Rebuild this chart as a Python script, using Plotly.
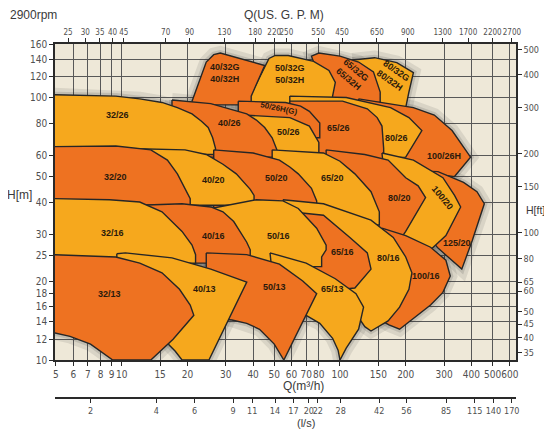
import numpy as np
import plotly.graph_objects as go

# ---------------- axis tick labels ----------------
q_ticks = [5, 6, 7, 8, 9, 10, 15, 20, 30, 40, 50, 60, 70, 80, 100, 150, 200, 300, 400, 500, 600]
h_ticks = [10, 12, 14, 16, 18, 20, 25, 30, 40, 50, 60, 80, 100, 120, 140, 160]
gpm_ticks = [25, 30, 35, 40, 45, 70, 90, 130, 180, 220, 250, 350, 450, 650, 900, 1300, 1700, 2200, 2700]
gpm_text = ["25", "30", "35", "40", "45", "70", "90", "130", "180", "220", "250", "550", "450",
            "650", "900", "1300", "1700", "2200", "2700"]
ls_ticks = [2, 4, 6, 9, 11, 14, 17, 20, 22, 28, 42, 56, 85, 115, 140, 170]
ft_ticks = [35, 40, 45, 50, 60, 65, 80, 100, 150, 200, 300, 400, 500]

# ---------------- pump fields: Q [m3/h], H [m] outlines ----------------
# row x/32
q_80_32 = [114.0, 144.1, 182.1, 216.9, 206.9, 200, 138.7, 114.0]
h_80_32 = [139.1, 141.9, 135.8, 124.5, 105.0, 91.6, 91.6, 118.6]
q_65_32 = [86.4, 74.0, 80, 100, 121.7, 142.3, 152.8, 152.8, 86.4]
h_65_32 = [101.3, 143.8, 147.8, 143.8, 136.6, 125.3, 105.0, 95.8, 95.8]
q_50_32 = [38.5, 47.3, 50.5, 57.9, 75.7, 89.0, 95.2, 92.5, 92.5, 38.5]
h_50_32 = [100, 140.9, 144.7, 144.7, 137.4, 126.8, 114.3, 101.3, 93.8, 93.8]
q_40_32 = [21.0, 24.4, 26.4, 28.3, 45.2, 39.2, 39.2, 21.0]
h_40_32 = [96.9, 136.6, 145.7, 147.8, 132.5, 101.3, 93.8, 93.8]
# row x/26
q_100_26 = [121.7, 216.9, 270.3, 326.1, 396.3, 334.7, 270.3, 200, 121.7]
h_100_26 = [98.9, 91.6, 85.8, 74.9, 59.3, 50, 51.2, 57.8, 57.8]
q_80_26 = [58.9, 106.8, 170.5, 206.9, 237.1, 200, 106.8, 58.9]
h_80_26 = [101.3, 100, 91.6, 83.9, 74.9, 59.3, 57.8, 57.8]
q_65_26 = [58.9, 102.7, 133.4, 148, 155.7, 158.5, 158.5, 58.9]
h_65_26 = [96.9, 96.9, 90.6, 83.9, 77.9, 64.0, 57.8, 57.8]
q_50_26h = [34.2, 56.3, 66.0, 72.4, 80.8, 80.8, 34.2]
h_50_26h = [96.9, 95.8, 92.8, 88.6, 80, 70.3, 70.3]
q_50_26 = [35.7, 58.9, 72.4, 80, 80, 35.7]
h_50_26 = [85.8, 83.9, 77.9, 67.5, 59.3, 59.3]
q_40_26 = [17.0, 25.6, 37.4, 41.4, 45.2, 48.9, 51.4, 51.4, 17.0]
h_40_26 = [97.9, 94.8, 86.7, 82.1, 76.9, 70.3, 63.2, 59.3, 59.3]
q_32_26 = [4.9, 9.4, 12.1, 15.3, 18.0, 21.0, 23.2, 24.9, 26.1, 26.9, 26.9, 4.9]
h_32_26 = [102.5, 101.3, 98.9, 95.8, 91.6, 86.7, 81.2, 76.9, 70.3, 64.0, 60.7, 60.7]
# row x/20
q_125_20 = [187.5, 281.0, 368.2, 424.1, 458.2, 403.9, 361.3, 326.1, 281.0, 237.1, 206.9]
h_125_20 = [52.8, 52.2, 47.5, 43.8, 39.4, 28.6, 22.2, 24.0, 26.7, 31.8, 46.1]
q_100_20 = [155.7, 216.9, 296.1, 334.7, 357, 305.6, 259.9, 222.1, 170.5]
h_100_20 = [61.5, 57.8, 49.5, 42.4, 38.3, 29.8, 26.3, 27.4, 29.8]
q_80_20 = [86.4, 129.9, 166.1, 200, 228.0, 246.6, 200, 187.5, 86.4]
h_80_20 = [63.2, 60.7, 57.8, 49.5, 46.1, 41.6, 30.9, 28.6, 28.6]
q_65_20 = [48.9, 84.0, 100, 117.0, 138.7, 151.4, 151.4, 48.9]
h_65_20 = [63.2, 61.5, 57.2, 51.2, 43.8, 36.7, 32.7, 32.7]
q_50_20 = [26.4, 40, 52.8, 58.9, 64.4, 74.0, 78.2, 78.2, 26.4]
h_50_20 = [63.2, 61.5, 57.8, 54.4, 51.2, 45.1, 40.4, 36.7, 36.7]
q_40_20 = [10.7, 19.5, 24.4, 29.1, 33.5, 36.4, 38.8, 40.4, 40.4, 10.7]
h_40_20 = [64.0, 63.2, 60.7, 55.7, 51.2, 47.5, 44.7, 42.4, 38.9, 38.9]
q_32_20 = [4.9, 9.4, 13.6, 16.2, 18.0, 19.5, 20.6, 20.6, 4.9]
h_32_20 = [65.0, 65.4, 63.2, 57.8, 51.2, 44.7, 41.2, 38.9, 38.9]
# row x/16
q_100_16 = [155.7, 175.4, 200, 259.9, 305.6, 320.0, 296.1, 259.9, 216.9, 187.5, 167.6, 155.7, 170.5, 187.5]
h_100_16 = [31.8, 30.9, 29.8, 26.9, 24.0, 20.9, 18.1, 16.2, 14.4, 13.1, 13.6, 14.1, 17.0, 21.5]
q_80_16 = [54.8, 84.0, 138.7, 175.4, 200, 213.5, 206.9, 187.5, 166.1, 138.7, 129.9, 106.8, 70, 54.8]
h_80_16 = [40.8, 39.4, 34.1, 29.3, 24.7, 21.5, 18.6, 15.9, 14.1, 12.9, 13.4, 17.0, 21.5, 31.8]
q_65_16 = [58.9, 84.0, 111.0, 133.4, 138.7, 117.0, 95.2, 70, 58.9]
h_65_16 = [36.7, 35.6, 29.3, 25.6, 22.2, 18.8, 18.5, 21.5, 23.4]
q_50_16 = [25.6, 41.4, 54.8, 64.4, 78.2, 86.4, 86.4, 82.4, 82.4, 25.6]
h_50_16 = [37.8, 40.8, 40.4, 37.8, 31.8, 27.4, 26.3, 24.7, 22.7, 22.7]
q_40_16 = [12.1, 18.9, 25.6, 29.1, 32.6, 35.1, 37.4, 38.8, 38.8, 12.1]
h_40_16 = [38.9, 39.4, 38.3, 36.7, 33.7, 30.4, 28.1, 26.3, 23.4, 23.4]
q_32_16 = [4.9, 8.8, 12.1, 15.3, 18.9, 21.0, 21.8, 21.8, 4.9]
h_32_16 = [41.2, 40.8, 40.0, 36.7, 30.9, 27.4, 25.2, 23.4, 23.4]
# row x/13
q_65_13 = [47.8, 70, 95.2, 118.4, 128.2, 121.7, 106.8, 100, 98.0, 92.5, 80.8, 70, 62.2, 48.9]
h_65_13 = [25.6, 23.4, 20.4, 17.9, 15.9, 13.1, 11.1, 10.0, 10.9, 12.1, 13.8, 14.8, 15.3, 21.5]
q_50_13 = [24.4, 37.4, 52.8, 67.5, 78.2, 55.3, 50.0, 42.8, 37.4, 32.0, 26.9, 24.4]
h_50_13 = [25.6, 25.2, 23.2, 20.0, 17.9, 10.0, 11.5, 13.1, 13.8, 14.2, 14.4, 21.5]
q_40_13 = [9.5, 10.4, 17.0, 25.6, 37.4, 25.1, 18.9, 17.6, 16.5, 13.6, 9.5]
h_40_13 = [25.4, 25.6, 24.5, 22.2, 19.8, 10, 10, 10.8, 11.4, 15.9, 21.5]
q_32_13 = [4.9, 9.4, 12.1, 15.3, 18.4, 20.6, 21.4, 17.2, 13.6, 9.1, 7.2, 5.8, 4.9]
h_32_13 = [25.2, 24.7, 23.4, 21.5, 18.6, 16.2, 14.8, 12.0, 10, 10, 11.5, 12.3, 12.7]

# ---------------- field labels ----------------
label_text = ["32/13", "40/13", "50/13", "65/13",
              "32/16", "40/16", "50/16", "65/16", "80/16", "100/16",
              "32/20", "40/20", "50/20", "65/20", "80/20", "100/20", "125/20",
              "32/26", "40/26", "50/26H(G)", "50/26", "65/26", "80/26", "100/26H",
              "40/32G<br>40/32H", "50/32G<br>50/32H", "65/32G<br>65/32H", "80/32G<br>80/32H"]
label_q = [8.8, 23.9, 50, 92.5,
           9.1, 26.4, 52.3, 102.7, 167.6, 246.6,
           9.4, 26.4, 51.4, 92.5, 187.5, 296, 344.6,
           9.6, 31.1, 52.3, 57.9, 98.2, 182.1, 300,
           29.6, 58.9, 114, 175.4]
label_h = [17.8, 18.7, 18.9, 18.6,
           30.4, 29.8, 29.8, 25.8, 24.5, 20.9,
           50, 48.5, 49.5, 49.5, 41.6, 41.6, 27.9,
           85.8, 80, 90.6, 74.2, 76.9, 70.3, 60,
           124.5, 122.9, 121.5, 120.7]
label_angle = [0, 0, 0, 0,
               0, 0, 0, 0, 0, 0,
               0, 0, 0, 0, 0, 50, 0,
               0, 0, 12, 0, 0, 0, 0,
               0, 0, 40, 35]

ORANGE = "#EE7221"
YELLOW = "#F6A81D"

# drawing order: upper rows first, right to left inside a row
fields = [
    (q_80_32, h_80_32, YELLOW), (q_65_32, h_65_32, ORANGE), (q_50_32, h_50_32, YELLOW), (q_40_32, h_40_32, ORANGE),
    (q_100_26, h_100_26, ORANGE), (q_80_26, h_80_26, YELLOW), (q_65_26, h_65_26, ORANGE),
    (q_50_26h, h_50_26h, ORANGE), (q_50_26, h_50_26, YELLOW), (q_40_26, h_40_26, ORANGE), (q_32_26, h_32_26, YELLOW),
    (q_125_20, h_125_20, ORANGE), (q_100_20, h_100_20, YELLOW), (q_80_20, h_80_20, ORANGE), (q_65_20, h_65_20, YELLOW),
    (q_50_20, h_50_20, ORANGE), (q_40_20, h_40_20, YELLOW), (q_32_20, h_32_20, ORANGE),
    (q_100_16, h_100_16, ORANGE), (q_80_16, h_80_16, YELLOW), (q_65_16, h_65_16, ORANGE),
    (q_50_16, h_50_16, YELLOW), (q_40_16, h_40_16, ORANGE), (q_32_16, h_32_16, YELLOW),
    (q_65_13, h_65_13, YELLOW), (q_50_13, h_50_13, ORANGE), (q_40_13, h_40_13, YELLOW), (q_32_13, h_32_13, ORANGE),
]

fig = go.Figure()

# soft shadow halo beneath all fields
for q, h, c in fields:
    fig.add_trace(go.Scatter(x=q + [q[0]], y=h + [h[0]], mode="lines",
                             line=dict(color="rgba(40,40,40,0.10)", width=14),
                             hoverinfo="skip", showlegend=False))
for q, h, c in fields:
    fig.add_trace(go.Scatter(x=q + [q[0]], y=h + [h[0]], mode="lines",
                             line=dict(color="rgba(40,40,40,0.14)", width=6),
                             hoverinfo="skip", showlegend=False))
for q, h, c in fields:
    fig.add_trace(go.Scatter(x=q + [q[0]], y=h + [h[0]], mode="lines", fill="toself",
                             fillcolor=c, line=dict(color="#262626", width=1.4),
                             hoverinfo="skip", showlegend=False))

# invisible carriers for secondary axes
fig.add_trace(go.Scatter(x=[q_ticks[0], q_ticks[-1]], y=[h_ticks[0], h_ticks[-1]], xaxis="x2", yaxis="y2",
                         mode="markers", marker=dict(opacity=0), hoverinfo="skip", showlegend=False))
fig.add_trace(go.Scatter(x=[q_ticks[0], q_ticks[-1]], y=[h_ticks[0], h_ticks[-1]], xaxis="x3", yaxis="y",
                         mode="markers", marker=dict(opacity=0), hoverinfo="skip", showlegend=False))

FONT = "Liberation Sans Narrow, DejaVu Sans Condensed, Liberation Sans, Arial, sans-serif"
LFONT = "Liberation Sans, Arial, sans-serif"
xr = [np.log10(4.95), np.log10(640)]
yr = [1.0, np.log10(160)]


def tf(size):
    return dict(family=FONT, size=size, color="#505050")


common_x = dict(type="log", range=xr, showline=True, linecolor="#2a2a2a", linewidth=1.5,
                ticks="outside", ticklen=4, tickcolor="#2a2a2a", zeroline=False,
                tickangle=0, automargin=False)
common_y = dict(type="log", range=yr, showline=True, linecolor="#2a2a2a", linewidth=1.5,
                ticks="outside", ticklen=4, tickcolor="#2a2a2a", zeroline=False,
                automargin=False)

annotations = []
for t, q, h, a in zip(label_text, label_q, label_h, label_angle):
    annotations.append(dict(x=np.log10(q), y=np.log10(h), xref="x", yref="y", text=t, showarrow=False,
                            textangle=a, font=dict(family=LFONT, size=9 if "26H(G)" not in t else 8,
                                                   color="#2b1a0c", weight="bold")))


def paper_note(text, x, y, xanchor="center", size=12):
    return dict(text=text, x=x, y=y, xref="paper", yref="paper", showarrow=False, xanchor=xanchor,
                yanchor="middle", font=dict(family=LFONT, size=size, color="#3a3a3a"))


annotations += [
    paper_note("2900rpm", -0.102, 1.082, "left", 12),
    paper_note("Q(US. G. P. M)", 0.497, 1.082, "center", 12),
    paper_note("H[m]", -0.076, 0.573, "center", 12),
    paper_note("H[ft]", 1.017, 0.531, "left", 10.5),
    paper_note("Q(m³/h)", 0.538, 0.033, "center", 12),
    paper_note("(l/s)", 0.5445, -0.070, "center", 11),
]

# page body has an 8 px default margin: the figure is 8 px smaller and its left/top margins 8 px
# smaller so the plot sits where the reference's does
fig.update_layout(
    width=544, height=424,
    margin=dict(l=47, r=36, t=36, b=34),
    paper_bgcolor="white", plot_bgcolor="#EEE8D8",
    showlegend=False,
    xaxis=dict(common_x, anchor="y", tickvals=q_ticks, ticktext=[str(v) for v in q_ticks],
               tickfont=tf(10), showgrid=True, gridcolor="#585858", gridwidth=1.2),
    xaxis2=dict(common_x, anchor="y", overlaying="x", side="top", tickfont=tf(8),
                tickvals=[g / 4.403 for g in gpm_ticks], ticktext=gpm_text, showgrid=False),
    xaxis3=dict(common_x, anchor="free", position=0, overlaying="x", side="bottom", tickfont=tf(9),
                tickvals=[v * 3.6 for v in ls_ticks], ticktext=[str(v) for v in ls_ticks], showgrid=False),
    yaxis=dict(common_y, domain=[0.1073, 1], anchor="x", tickvals=h_ticks, ticktext=[str(v) for v in h_ticks],
               tickfont=tf(10), showgrid=True, gridcolor="#585858", gridwidth=1.2),
    yaxis2=dict(common_y, overlaying="y", side="right", anchor="x", tickfont=tf(9),
                tickvals=[f * 0.3048 for f in ft_ticks], ticktext=[str(v) for v in ft_ticks], showgrid=False),
    annotations=annotations,
)

fig.write_html("out.html")
